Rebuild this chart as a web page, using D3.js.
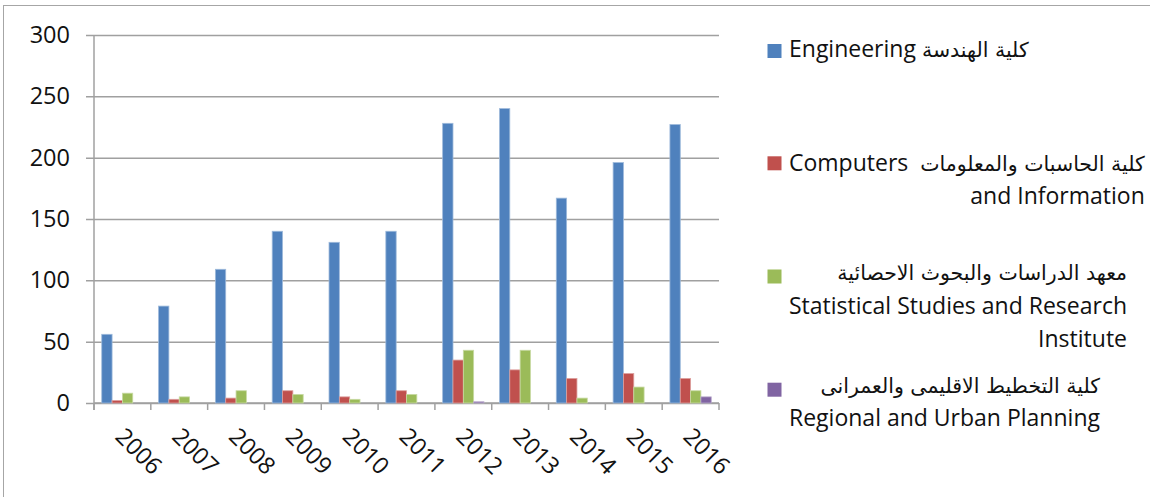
<!DOCTYPE html>
<html>
<head>
<meta charset="utf-8">
<script src="https://cdn.jsdelivr.net/npm/d3@7"></script>
<style>
  html, body { margin: 0; padding: 0; background: #fff; }
  svg { display: block; }
  text { font-family: "Open Sans", "DejaVu Sans", sans-serif; fill: #111; white-space: pre; }
  tspan.ar { font-family: "DejaVu Sans", sans-serif; }
</style>
</head>
<body>
<svg id="chart" width="1150" height="497"></svg>
<script>
// Graduates per year by faculty
const years = ["2006", "2007", "2008", "2009", "2010", "2011", "2012", "2013", "2014", "2015", "2016"];
const engineering = [56, 79, 109, 140, 131, 140, 228, 240, 167, 196, 227];
const computers   = [2, 3, 4, 10, 5, 10, 35, 27, 20, 24, 20];
const statistics  = [8, 5, 10, 7, 3, 7, 43, 43, 4, 13, 10];
const planning    = [0, 0, 0, 0, 0, 0, 1, 0, 0, 0, 5];
const yTicks = [0, 50, 100, 150, 200, 250, 300];

const seriesNames = ["engineering", "computers", "statistics", "planning"];
const seriesValues = [engineering, computers, statistics, planning];
const seriesColors = ["#4F81BD", "#C0504D", "#9BBB59", "#8064A2"];
const legendLines = [
  ["Engineering كلية الهندسة"],
  ["Computers  كلية الحاسبات والمعلومات", "and Information"],
  ["معهد الدراسات والبحوث الاحصائية", "Statistical Studies and Research", "Institute"],
  ["كلية التخطيط الاقليمى والعمرانى", "Regional and Urban Planning"]
];

const svg = d3.select("#chart");

// chart frame
svg.append("rect")
  .attr("x", 3.5).attr("y", 5.5)
  .attr("width", 1160).attr("height", 500)
  .attr("fill", "none").attr("stroke", "#a6a6a6").attr("stroke-width", 1);

const plot = { left: 94, right: 719, top: 35, bottom: 403 };

const x0 = d3.scaleBand().domain(years).range([plot.left, plot.right]);
// 150% gap between clusters: each bar is 1/5.5 of a category
const barW = x0.bandwidth() / 5.5;
const x1 = d3.scaleBand().domain(seriesNames).range([barW * 0.75, barW * 4.75]);
const y = d3.scaleLinear().domain([0, 300]).range([plot.bottom, plot.top]);

// gridlines with left tick extensions
const yAxis = d3.axisLeft(y).tickValues(yTicks)
  .tickSize(-(plot.right - plot.left) - 8).tickPadding(16).tickFormat(d3.format("d"));
const gy = svg.append("g").attr("transform", `translate(${plot.left - 8},0)`).call(yAxis);
gy.select(".domain").remove();
gy.selectAll(".tick line").attr("stroke", "#a0a0a0").attr("stroke-width", 1.5);
gy.selectAll(".tick text").attr("font-size", 23.5).attr("fill", "#111")
  .attr("font-family", "'Open Sans', 'DejaVu Sans', sans-serif");

// vertical axis line
svg.append("line")
  .attr("x1", plot.left).attr("x2", plot.left)
  .attr("y1", plot.top).attr("y2", plot.bottom + 7)
  .attr("stroke", "#a0a0a0").attr("stroke-width", 1.5);

// x axis with tick marks at category boundaries
const xAxisG = svg.append("g");
xAxisG.append("line")
  .attr("x1", plot.left).attr("x2", plot.right)
  .attr("y1", plot.bottom).attr("y2", plot.bottom)
  .attr("stroke", "#a0a0a0").attr("stroke-width", 1.5);
const boundaries = years.map(d => x0(d)).concat([x0(years[years.length - 1]) + x0.bandwidth()]);
xAxisG.selectAll("line.tick").data(boundaries).enter().append("line")
  .attr("class", "tick")
  .attr("x1", d => d).attr("x2", d => d)
  .attr("y1", plot.bottom).attr("y2", plot.bottom + 7)
  .attr("stroke", "#a0a0a0").attr("stroke-width", 1.5);

// rotated year labels
xAxisG.selectAll("text.year").data(years).enter().append("text")
  .attr("class", "year")
  .attr("font-size", 23.5)
  .attr("text-anchor", "start")
  .attr("transform", d => `translate(${x0(d) + x0.bandwidth() / 2 - 8.5},${plot.bottom + 35}) rotate(45)`)
  .text(d => d);

// bars
seriesNames.forEach((name, si) => {
  const color = seriesColors[si];
  const edge = d3.interpolateRgb(color, "#ffffff")(0.45);
  svg.append("g").selectAll("rect")
    .data(years.map((yr, i) => ({ yr, v: seriesValues[si][i] })))
    .enter().append("rect")
    .attr("x", d => x0(d.yr) + x1(name))
    .attr("y", d => y(d.v))
    .attr("width", x1.bandwidth())
    .attr("height", d => y(0) - y(d.v))
    .attr("fill", color)
    .attr("stroke", edge)
    .attr("stroke-width", d => d.v > 0 ? 0.8 : 0);
});

// legend: Latin and Arabic runs set as separate tspans
const arabicRun = /([\u0600-\u06FF][\u0600-\u06FF ]*[\u0600-\u06FF]|[\u0600-\u06FF])/;
const legendLeft = 789;
const legendFirstBaselines = [57, 170.5, 280, 392.5];
const swatchCenters = [51, 163.3, 276.5, 389.7];
const lineGap = 33.7;
legendLines.forEach((lines, si) => {
  const g = svg.append("g");
  const base = legendFirstBaselines[si];
  g.append("rect")
    .attr("x", 767.5).attr("y", swatchCenters[si] - 7)
    .attr("width", 14).attr("height", 14)
    .attr("fill", seriesColors[si]);
  const texts = g.selectAll("text").data(lines).enter().append("text")
    .attr("font-size", 23)
    .attr("y", (d, i) => base + i * lineGap);
  texts.each(function (line) {
    const t = d3.select(this);
    line.split(arabicRun).filter(s => s.length).forEach(seg => {
      const isAr = arabicRun.test(seg);
      t.append("tspan")
        .attr("class", isAr ? "ar" : null)
        .attr("font-size", isAr ? 20.5 : 23)
        .text(seg);
    });
  });
  let maxW = 0;
  texts.each(function () { maxW = Math.max(maxW, this.getComputedTextLength()); });
  texts.attr("text-anchor", "end").attr("x", legendLeft + maxW);
});
</script>
</body>
</html>
